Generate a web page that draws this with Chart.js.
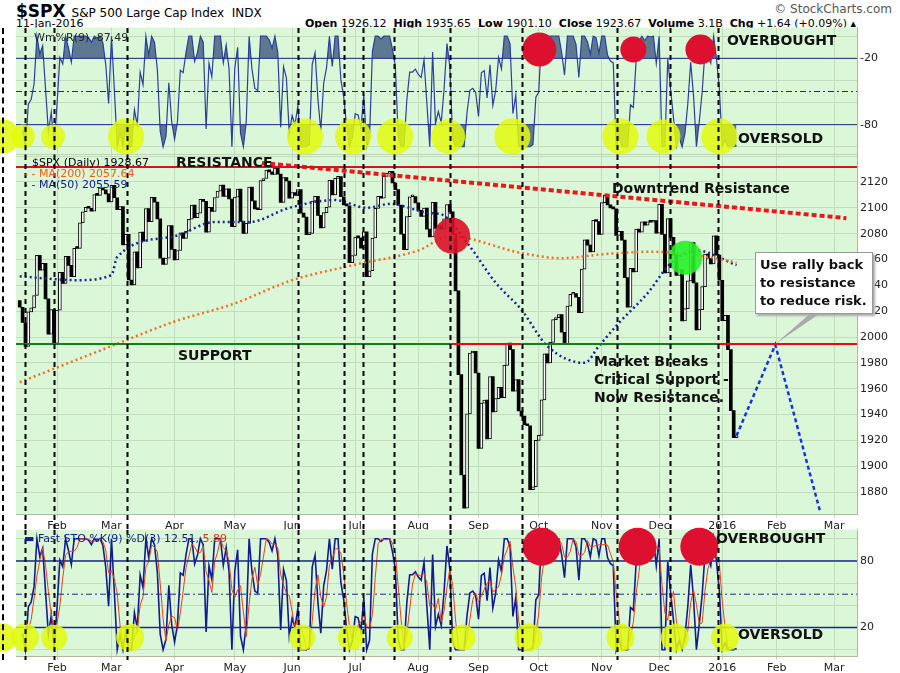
<!DOCTYPE html>
<html><head><meta charset="utf-8">
<script src="https://cdn.jsdelivr.net/npm/chart.js@4.4.0/dist/chart.umd.min.js"></script>
<style>
body{margin:0;width:900px;height:673px;background:#fff;position:relative;overflow:hidden;font-family:"DejaVu Sans",sans-serif}
.c{position:absolute;left:0;width:900px}
.t{position:absolute;white-space:nowrap}
.b{font-weight:bold;font-size:14px;color:#111}
</style></head><body>
<div class="t" style="left:16px;top:1px;font-size:17px;font-weight:bold">$SPX <span style="font-size:12px;font-weight:normal">S&amp;P 500 Large Cap Index&nbsp; INDX</span></div>
<div class="t" style="left:16px;top:17px;font-size:11px">11-Jan-2016</div>
<div class="t" style="right:8px;top:2px;font-size:12px;color:#555">© StockCharts.com</div>
<div class="t" style="right:44px;top:17px;font-size:11px"><b>Open</b> 1926.12 &nbsp;<b>High</b> 1935.65 &nbsp;<b>Low</b> 1901.10 &nbsp;<b>Close</b> 1923.67 &nbsp;<b>Volume</b> 3.1B &nbsp;<b>Chg</b> +1.64 (+0.09%) ▴</div>
<div class="c" style="top:18px;height:146px"><canvas id="wr"></canvas></div>
<div class="c" style="top:145px;height:390px"><canvas id="px"></canvas></div>
<div class="c" style="top:520px;height:157px"><canvas id="st"></canvas></div>
<div style="position:absolute;left:2px;top:28px;height:632px;border-left:2px dashed #000"></div>
<div class="t" style="left:34px;top:31px;font-size:11px;color:#223">Wm%R(9) -87.49</div>
<div class="t b" style="left:727px;top:32px">OVERBOUGHT</div>
<div class="t b" style="left:738px;top:130px">OVERSOLD</div>
<div class="t" style="left:32px;top:156px;font-size:11px">$SPX (Daily) 1928.67</div>
<div class="t" style="left:24px;top:167px;font-size:11px;color:#f06010">- - MA(200) 2057.64</div>
<div class="t" style="left:24px;top:178px;font-size:11px;color:#102090">- - MA(50) 2055.59</div>
<div class="t b" style="left:176px;top:154px">RESISTANCE</div>
<div class="t b" style="left:178px;top:347px">SUPPORT</div>
<div class="t b" style="left:612px;top:180px">Downtrend Resistance</div>
<div class="t b" style="left:594px;top:352px;line-height:18px">Market Breaks<br>Critical Support -<br>Now Resistance.</div>
<div class="t b" style="left:755px;top:252px;width:108px;padding:3px 4px;background:#fff;border:1px solid #999;box-shadow:2px 2px 2px #aaa;line-height:18px;font-size:13px;white-space:normal">Use rally back to resistance to reduce risk.</div>
<div class="t" style="left:24px;top:532px;font-size:11px;color:#102090">▬ Fast STO %K(9) %D(3) 12.51, <span style="color:#e03010">5.89</span></div>
<div class="t b" style="left:716px;top:530px">OVERBOUGHT</div>
<div class="t b" style="left:738px;top:626px">OVERSOLD</div>
<script>
// trading-day index 0 = 13-Jan-2015
var preCloses = [2058.2,2020.58,2002.61,2025.9,2062.14,2044.81,2028.26]
var closes = [
2023.03,2011.27,1992.67,2019.42,2022.55,2032.12,2063.15,2051.82,2057.09,2029.55,2002.16,2021.25,1994.99,
2020.85,2050.03,2041.51,2062.52,2055.47,2046.74,2068.59,2068.53,2088.48,2096.99,2100.34,2099.68,2097.45,2110.3,2109.66,2115.48,2113.86,2110.74,2104.5,
2117.39,2107.78,2098.53,2101.04,2071.26,2079.43,2044.16,2040.24,2065.95,2053.4,2081.19,2074.28,2099.5,2089.27,2108.1,2104.42,2091.5,2061.05,2056.15,2061.02,2086.24,2067.89,
2059.69,2066.96,2080.62,2076.33,2081.9,2091.18,2102.06,2092.43,2095.84,2106.63,2104.99,2081.18,2100.4,2097.29,2107.96,2112.93,2117.69,2108.92,2114.76,2106.85,2085.51,
2108.29,2114.49,2089.46,2080.15,2088,2116.1,2105.33,2099.12,2098.48,2121.1,2122.73,2129.2,2127.83,2125.85,2130.82,2126.06,2104.2,2123.48,2120.79,2107.39,
2111.73,2109.6,2114.07,2095.84,2092.83,2079.28,2080.15,2105.2,2108.86,2094.11,2084.43,2096.29,2100.44,2121.24,2109.99,2122.85,2124.2,2108.58,2102.31,2101.49,2057.64,2063.11,
2077.42,2076.78,2068.76,2081.34,2046.68,2051.31,2076.62,2099.6,2108.95,2107.4,2124.29,2126.64,2128.28,2119.21,2114.15,2102.15,2079.65,2067.64,2093.25,2108.57,2108.63,2103.84,
2098.04,2093.32,2099.84,2083.56,2077.57,2104.18,2084.07,2086.05,2083.39,2091.54,2102.44,2096.92,2079.61,2035.73,1970.89,1893.21,1867.61,1940.51,1987.66,1988.87,1972.18,
1913.85,1948.86,1951.13,1921.22,1969.41,1942.04,1952.29,1961.05,1953.03,1978.09,1995.31,1990.2,1958.03,1966.97,1942.74,1938.76,1932.24,1931.34,1881.77,1884.09,1920.03,
1923.82,1951.36,1987.05,1979.92,1995.83,2013.43,2014.89,2017.46,2003.69,1994.24,2023.86,2033.11,2033.66,2030.77,2018.94,2052.51,2075.15,2071.18,2065.89,2090.35,2089.41,2079.36,
2104.05,2109.79,2102.31,2099.93,2099.2,2078.58,2081.72,2075,2045.97,2023.04,2053.19,2050.44,2083.58,2081.24,2089.17,2086.59,2089.14,2088.87,2090.11,2080.41,
2102.63,2079.51,2049.62,2091.69,2077.07,2063.59,2047.62,2052.23,2012.37,2021.94,2043.41,2073.07,2041.89,2005.55,2021.15,2038.97,2064.29,2060.99,2056.5,2078.36,2063.36,2043.94,
2012.66,2016.71,1990.26,1943.09,1922.03,1923.67]

var ma200Days = [0,32,54,75,95,117,139,150,175,189,203,220,237,250]
var ma200Vals = [1965,1993,2012,2026,2044,2056,2067,2078,2065,2061,2064,2066,2063,2057.6]
var ma50Days = [0,20,32,34,54,68,80,94,110,121,129,143,147,156,166,175,184,197,202,209,219,227,236,250]
var ma50Vals = [2047,2044,2048,2062,2078,2089,2089,2100,2106,2100,2103,2096,2095,2073,2042,2021,1993,1980,1993,2011,2034,2057,2067,2055.6]

var monthDays = [13,32,54,75,95,117,139,160,181,203,223,245,264,284]
var monthLabels = ["Feb","Mar","Apr","May","Jun","Jul","Aug","Sep","Oct","Nov","Dec","2016","Feb","Mar"]
var priceTicks = [1880,1900,1920,1940,1960,1980,2000,2020,2040,2060,2080,2100,2120]

var eventDays = [-5.8,1.8,12,37.4,97,113.2,119.8,130.6,150.1,175,208.4,226.9,243.6]
var topYellow = [[-5.8,17],[1.1,12],[11.6,12],[37.1,18],[99.5,18],[116.3,18],[130.9,18],[149.4,17],[171.8,18],[209.5,18],[224.5,17],[244,18]]
var topRed = [[181.2,17],[214,13],[237.4,15]]
var botYellow = [[-5.8,14],[1.8,14],[12,13],[38.5,14],[98.5,13],[115.5,13],[132.5,13],[154.5,13],[177.4,14],[209.5,14],[228.5,14],[246,14]]
var botRed = [[182,19],[215.5,19],[237,19]]

var trendDays = [84.5,288.3], trendVals = [2134.7,2092]
var projDays = [250,263.5,279], projVals = [1923.7,1994,1866]
var resistanceLevel = 2131.6, supportLevel = 1994.6

// indicators from the closes
var all = preCloses.concat(closes), wr = [], pk = [], pd = []
for (var i = 0; i < closes.length; i++) {
  var w = all.slice(i - 1 + 7 - 7, i + 8), hh = Math.max.apply(null, w), ll = Math.min.apply(null, w)
  var c = closes[i], r = hh == ll ? 0.5 : (c - ll) / (hh - ll)
  wr.push({x: i, y: (r - 1) * 100})
  pk.push({x: i, y: r * 100})
  var k3 = pk.slice(Math.max(0, i - 2))
  pd.push({x: i, y: k3.reduce((s, p) => s + p.y, 0) / k3.length})
}

var XMIN = -1.3, XMAX = 292
var GRID = "#c5dcbc", BG = "#daf7d8"

function xScale(show){
  return {type: "linear", min: XMIN, max: XMAX, offset: false,
    afterBuildTicks: (s) => { s.ticks = monthDays.map(v => ({value: v})) },
    ticks: {display: show, autoSkip: false, maxRotation: 0, color: "#222", font: {size: 11, family: "DejaVu Sans"}, padding: 2,
      callback: (v) => monthLabels[monthDays.indexOf(v)]},
    grid: {color: GRID, drawTicks: show, tickLength: 3, offset: false}, border: {color: "#b8b898"}}
}
function yScale(min, max, ticks, gridTicks){
  return {position: "right", min: min, max: max,
    afterBuildTicks: (s) => { s.ticks = (gridTicks || ticks).map(v => ({value: v})) },
    afterFit: (s) => { s.width = 43 },
    ticks: {color: "#222", font: {size: 11, family: "DejaVu Sans"}, padding: 3,
      callback: (v) => ticks.indexOf(v) >= 0 ? v : ""},
    grid: {color: GRID, drawTicks: false}, border: {color: "#b8b898"}}
}

function circle(ctx, x, y, r, col){ ctx.beginPath(); ctx.arc(x, y, r, 0, Math.PI * 2); ctx.fillStyle = col; ctx.fill() }

function decor(opt){
  return {
    id: "decor",
    beforeDraw(ch){
      var a = ch.chartArea, ctx = ch.ctx
      ctx.save(); ctx.fillStyle = BG; ctx.fillRect(a.left, a.top, a.right - a.left, a.bottom - a.top); ctx.restore()
    },
    afterDatasetsDraw(ch){
      var ctx = ch.ctx, xs = ch.scales.x, ys = ch.scales.y, a = ch.chartArea
      ctx.save()
      if (opt.lines) opt.lines.forEach(l => {
        ctx.strokeStyle = l.color; ctx.lineWidth = l.width || 1; ctx.setLineDash(l.dash || [])
        ctx.beginPath(); ctx.moveTo(l.x0 != null ? xs.getPixelForValue(l.x0) : a.left, ys.getPixelForValue(l.y))
        ctx.lineTo(l.x1 != null ? xs.getPixelForValue(l.x1) : a.right, ys.getPixelForValue(l.y)); ctx.stroke()
      })
      ctx.setLineDash([])
      ;(opt.circles || []).forEach(c => c.list.forEach(p =>
        circle(ctx, xs.getPixelForValue(p[0]), ys.getPixelForValue(c.y), p[1], c.color)))
      if (opt.after) opt.after(ch, ctx, xs, ys)
      ctx.strokeStyle = "#000"; ctx.lineWidth = 2; ctx.setLineDash([5, 4])
      eventDays.forEach(d => {
        if (d < XMIN) return
        var x = Math.round(xs.getPixelForValue(d)) + 0.5
        ctx.beginPath(); ctx.moveTo(x, opt.lineTop || 0); ctx.lineTo(x, opt.lineBottom || ch.height); ctx.stroke()
      })
      ctx.restore()
    }
  }
}

var baseOpts = {responsive: true, maintainAspectRatio: false, animation: false,
  plugins: {legend: {display: false}, tooltip: {enabled: false}},
  elements: {point: {radius: 0}}}

// Williams %R
new Chart(document.getElementById("wr"), {
  type: "line",
  data: {datasets: [
    {data: wr, borderColor: "#2a3fa0", borderWidth: 1.2, fill: {target: {value: -20}, above: "#5d7890", below: "rgba(0,0,0,0)"}},
    {data: wr, borderColor: "rgba(0,0,0,0)", borderWidth: 0, fill: {target: {value: -80}, above: "rgba(0,0,0,0)", below: "#5d7890"}}
  ]},
  options: Object.assign({}, baseOpts, {
    layout: {padding: {left: 16, top: 0, bottom: 0, right: 0}},
    scales: {x: xScale(false), y: yScale(-106.9, 7.8, [-20, -50, -80], [-100, -90, -80, -70, -60, -50, -40, -30, -20, -10, 0])}}),
  plugins: [decor({
    lineTop: 10,
    lines: [{y: -20, color: "#1a2a8a"}, {y: -80, color: "#1a2a8a"}, {y: -50, color: "#1a2a8a", dash: [6, 3, 2, 3]}],
    circles: [{y: -90.7, color: "rgba(226,250,10,0.85)", list: topYellow}, {y: -12, color: "#dd1030", list: topRed}]
  })]
})

// price
var bars = closes.map((c, i) => ({x: i, y: [i ? closes[i - 1] : preCloses[6], c]}))
var up = closes.map((c, i) => c >= (i ? closes[i - 1] : preCloses[6]))
new Chart(document.getElementById("px"), {
  type: "bar",
  data: {datasets: [
    {type: "line", data: ma200Days.map((d, i) => ({x: d, y: ma200Vals[i]})), borderColor: "#f07020", borderWidth: 2.5, borderDash: [2, 3], cubicInterpolationMode: "monotone"},
    {type: "line", data: ma50Days.map((d, i) => ({x: d, y: ma50Vals[i]})), borderColor: "#1a2590", borderWidth: 2.5, borderDash: [2, 3], cubicInterpolationMode: "monotone"},
    {type: "line", data: trendDays.map((d, i) => ({x: d, y: trendVals[i]})), borderColor: "#e81818", borderWidth: 4, borderDash: [5, 3]},
    {type: "line", data: projDays.map((d, i) => ({x: d, y: projVals[i]})), borderColor: "#1535e0", borderWidth: 2.5, borderDash: [4, 3]},
    {data: bars, barThickness: 3, minBarLength: 2, grouped: false,
      backgroundColor: up.map(u => u ? "#fff" : "#000"), borderColor: "#000", borderWidth: up.map(u => u ? 1 : 0), borderSkipped: false}
  ]},
  options: Object.assign({}, baseOpts, {
    layout: {padding: {left: 16, top: 0, bottom: 0, right: 0}},
    scales: {x: xScale(true), y: yScale(1862.4, 2141.2, priceTicks, priceTicks.concat([2140]))}}),
  plugins: [decor({
    lineTop: 10,
    lines: [{y: resistanceLevel, color: "#e01010", width: 2},
      {y: supportLevel, color: "#10801a", width: 2, x1: 150.5},
      {y: supportLevel, color: "#e01010", width: 2, x0: 150.5, x1: 175},
      {y: supportLevel, color: "#10801a", width: 2, x0: 175, x1: 243.6},
      {y: supportLevel, color: "#e01010", width: 2, x0: 243.6}],
    circles: [{y: 2078.4, color: "rgba(220,16,40,0.9)", list: [[150.8, 18]]}, {y: 2061.4, color: "rgba(40,240,40,0.9)", list: [[232.1, 17]]}],
    after(ch, ctx, xs, ys){
      ctx.fillStyle = "#aaa"; ctx.beginPath()
      ctx.moveTo(xs.getPixelForValue(263.5), ys.getPixelForValue(supportLevel))
      ctx.lineTo(812, 167); ctx.lineTo(822, 167); ctx.closePath(); ctx.fill()
    }
  })]
})

// fast stochastics
new Chart(document.getElementById("st"), {
  type: "line",
  data: {datasets: [
    {data: pd, borderColor: "#f04010", borderWidth: 1},
    {data: pk, borderColor: "#101c90", borderWidth: 1.6}
  ]},
  options: Object.assign({}, baseOpts, {
    layout: {padding: {left: 16, top: 0, bottom: 0, right: 0}},
    scales: {x: xScale(true), y: yScale(-6.4, 108.2, [20, 50, 80], [0, 10, 20, 30, 40, 50, 60, 70, 80, 90, 100])}}),
  plugins: [decor({
    lineTop: 10, lineBottom: 140,
    lines: [{y: 80, color: "#1a2a8a", width: 1.5}, {y: 20, color: "#1a2a8a", width: 1.5}, {y: 50, color: "#1a2a8a", dash: [6, 3, 2, 3]}],
    circles: [{y: 11, color: "rgba(226,250,10,0.85)", list: botYellow}, {y: 92.7, color: "#dd1030", list: botRed}]
  })]
})
</script>
</body></html>
